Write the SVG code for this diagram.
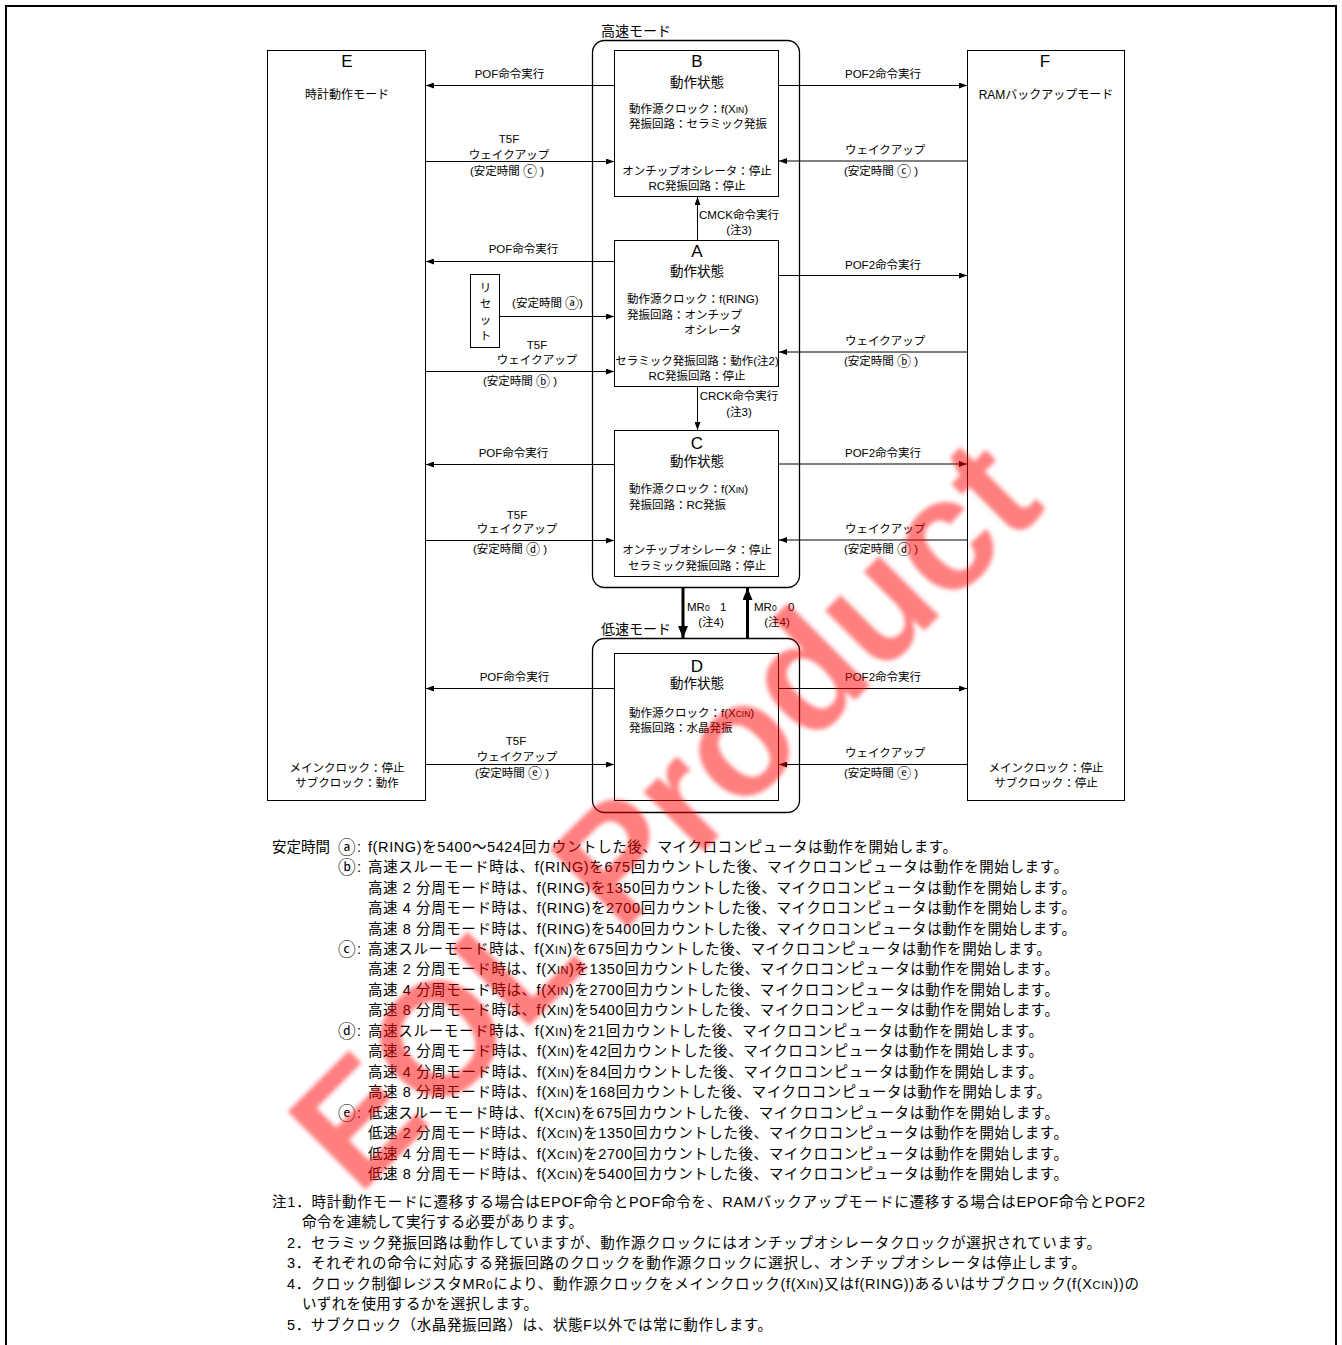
<svg xmlns="http://www.w3.org/2000/svg" width="1342" height="1345" viewBox="0 0 1342 1345">
<style>
text{font-family:"Liberation Sans","Noto Sans CJK JP",sans-serif;font-size:11.5px;fill:#000}
.m{text-anchor:middle}
.big{font-size:17px}
.st{font-size:13.5px}
.md{font-size:12px}
.mode{font-size:14px}
.note{font-size:14.5px}
.sub{font-size:8.5px}
.nsub{font-size:11px}
.ci{font-family:"DejaVu Sans","Noto Sans CJK JP",sans-serif;font-size:1.22em;baseline-shift:-0.1em}
.box{fill:#fff;stroke:#000;stroke-width:1}
.grp{fill:none;stroke:#000;stroke-width:1.3}
.ln{stroke:#000;stroke-width:1;fill:none;marker-end:url(#ah)}
.thick{stroke:#000;stroke-width:3;fill:none;marker-end:url(#ahb)}
.wm{font-family:"Liberation Sans",sans-serif;font-weight:bold;font-size:160px;fill:#ff0000;fill-opacity:0.5}
</style>
<defs>
<marker id="ah" markerWidth="8" markerHeight="6" refX="8" refY="3" orient="auto" markerUnits="userSpaceOnUse"><path d="M0,0 L8,3 L0,6 z" fill="#000"/></marker>
<marker id="ahb" markerWidth="12" markerHeight="10" refX="12" refY="5" orient="auto" markerUnits="userSpaceOnUse"><path d="M0,0 L12,5 L0,10 z" fill="#000"/></marker>
<filter id="blur" x="-5%" y="-5%" width="110%" height="110%"><feGaussianBlur stdDeviation="2"/></filter>
</defs>
<rect x="0" y="0" width="1342" height="1345" fill="#fff"/>
<rect x="6" y="6" width="1330" height="1350" fill="none" stroke="#000" stroke-width="2"/>

<g id="group-high">
<rect class="grp" x="592.5" y="40.5" width="207" height="547" rx="12"/>
<text class="mode" x="601" y="36">高速モード</text>
</g>
<g id="group-low">
<rect class="grp" x="592.5" y="638.5" width="207" height="174" rx="12"/>
<text class="mode" x="601" y="634">低速モード</text>
</g>

<g id="node-E">
<rect class="box" x="267.5" y="50.5" width="158" height="750"/>
<text class="big m" x="347" y="67">E</text>
<text class="md m" x="347" y="99">時計動作モード</text>
<text class="m" x="347" y="772">メインクロック：停止</text>
<text class="m" x="347" y="787">サブクロック：動作</text>
</g>

<g id="node-F">
<rect class="box" x="967.5" y="50.5" width="157" height="750"/>
<text class="big m" x="1045" y="67">F</text>
<text class="md m" x="1046" y="99">RAMバックアップモード</text>
<text class="m" x="1046" y="772">メインクロック：停止</text>
<text class="m" x="1046" y="787">サブクロック：停止</text>
</g>

<g id="node-B">
<rect class="box" x="614.5" y="50.5" width="164" height="146"/>
<text class="big m" x="697" y="67">B</text>
<text class="st m" x="697" y="87">動作状態</text>
<text x="629" y="113">動作源クロック：f(X<tspan class="sub">IN</tspan>)</text>
<text x="629" y="128">発振回路：セラミック発振</text>
<text class="m" x="697" y="175">オンチップオシレータ：停止</text>
<text class="m" x="697" y="190">RC発振回路：停止</text>
</g>

<g id="node-A">
<rect class="box" x="614.5" y="240.5" width="164" height="146"/>
<text class="big m" x="697" y="257">A</text>
<text class="st m" x="697" y="276">動作状態</text>
<text x="627" y="303">動作源クロック：f(RING)</text>
<text x="627" y="319">発振回路：オンチップ</text>
<text x="684" y="334">オシレータ</text>
<text class="m" x="697" y="365">セラミック発振回路：動作(注2)</text>
<text class="m" x="697" y="380">RC発振回路：停止</text>
</g>

<g id="node-C">
<rect class="box" x="614.5" y="430.5" width="164" height="146"/>
<text class="big m" x="697" y="449">C</text>
<text class="st m" x="697" y="466">動作状態</text>
<text x="629" y="493">動作源クロック：f(X<tspan class="sub">IN</tspan>)</text>
<text x="629" y="509">発振回路：RC発振</text>
<text class="m" x="697" y="554">オンチップオシレータ：停止</text>
<text class="m" x="697" y="570">セラミック発振回路：停止</text>
</g>

<g id="node-D">
<rect class="box" x="614.5" y="653.5" width="164" height="147"/>
<text class="big m" x="697" y="672">D</text>
<text class="st m" x="697" y="688">動作状態</text>
<text x="629" y="717">動作源クロック：f(X<tspan class="sub">CIN</tspan>)</text>
<text x="629" y="732">発振回路：水晶発振</text>
</g>

<g id="node-reset">
<rect class="box" x="470.5" y="274.5" width="29" height="73"/>
<text class="m" x="485.5" y="292">リ</text>
<text class="m" x="485.5" y="308">セ</text>
<text class="m" x="485.5" y="324">ッ</text>
<text class="m" x="485.5" y="340">ト</text>
</g>

<g id="connectors">
<line class="ln" x1="614.5" y1="85.5" x2="426" y2="85.5"/>
<line class="ln" x1="426" y1="161.5" x2="614" y2="161.5"/>
<line class="ln" x1="779" y1="85.5" x2="967" y2="85.5"/>
<line class="ln" x1="967" y1="161" x2="779" y2="161"/>
<line class="ln" x1="697.5" y1="240" x2="697.5" y2="197"/>
<line class="ln" x1="614.5" y1="261.5" x2="426" y2="261.5"/>
<line class="ln" x1="500" y1="316.5" x2="614" y2="316.5"/>
<line class="ln" x1="426" y1="371.5" x2="614" y2="371.5"/>
<line class="ln" x1="779" y1="275.5" x2="967" y2="275.5"/>
<line class="ln" x1="967" y1="352" x2="779" y2="352"/>
<line class="ln" x1="697.5" y1="387" x2="697.5" y2="430"/>
<line class="ln" x1="614.5" y1="464.5" x2="426" y2="464.5"/>
<line class="ln" x1="426" y1="540.5" x2="614" y2="540.5"/>
<line class="ln" x1="779" y1="464" x2="967" y2="464"/>
<line class="ln" x1="967" y1="540" x2="779" y2="540"/>
<line class="ln" x1="614.5" y1="688.5" x2="426" y2="688.5"/>
<line class="ln" x1="426" y1="764.5" x2="614" y2="764.5"/>
<line class="ln" x1="779" y1="688.5" x2="967" y2="688.5"/>
<line class="ln" x1="967" y1="764.5" x2="779" y2="764.5"/>
<line class="thick" x1="683" y1="588" x2="683" y2="638"/>
<line class="thick" x1="747.5" y1="638" x2="747.5" y2="588"/>

<text class="m" x="509.5" y="78">POF命令実行</text>
<text class="m" x="509" y="143">T5F</text>
<text class="m" x="509" y="159">ウェイクアップ</text>
<text class="m" x="507" y="175">(安定時間 <tspan class="ci">ⓒ</tspan> )</text>
<text x="845" y="78">POF2命令実行</text>
<text x="845" y="154">ウェイクアップ</text>
<text x="844" y="175">(安定時間 <tspan class="ci">ⓒ</tspan> )</text>
<text class="m" x="739" y="219">CMCK命令実行</text>
<text class="m" x="739" y="234">(注3)</text>

<text class="m" x="523.5" y="253">POF命令実行</text>
<text class="m" x="547.5" y="307">(安定時間 <tspan class="ci">ⓐ</tspan>)</text>
<text class="m" x="537" y="349">T5F</text>
<text class="m" x="537" y="364">ウェイクアップ</text>
<text class="m" x="520" y="385">(安定時間 <tspan class="ci">ⓑ</tspan> )</text>
<text x="845" y="269">POF2命令実行</text>
<text x="845" y="345">ウェイクアップ</text>
<text x="844" y="365">(安定時間 <tspan class="ci">ⓑ</tspan> )</text>
<text class="m" x="739" y="400">CRCK命令実行</text>
<text class="m" x="739" y="416">(注3)</text>

<text class="m" x="513.5" y="457">POF命令実行</text>
<text class="m" x="517" y="519">T5F</text>
<text class="m" x="517" y="533">ウェイクアップ</text>
<text class="m" x="510" y="553">(安定時間 <tspan class="ci">ⓓ</tspan> )</text>
<text x="845" y="457">POF2命令実行</text>
<text x="845" y="533">ウェイクアップ</text>
<text x="844" y="553">(安定時間 <tspan class="ci">ⓓ</tspan> )</text>

<text x="687" y="611">MR<tspan class="sub">0</tspan><tspan x="720">1</tspan></text>
<text class="m" x="711" y="626">(注4)</text>
<text x="754" y="611">MR<tspan class="sub">0</tspan><tspan x="788">0</tspan></text>
<text class="m" x="777" y="626">(注4)</text>

<text class="m" x="514.5" y="681">POF命令実行</text>
<text class="m" x="516" y="745">T5F</text>
<text class="m" x="517" y="761">ウェイクアップ</text>
<text class="m" x="512" y="777">(安定時間 <tspan class="ci">ⓔ</tspan> )</text>
<text x="845" y="681">POF2命令実行</text>
<text x="845" y="757">ウェイクアップ</text>
<text x="844" y="777">(安定時間 <tspan class="ci">ⓔ</tspan> )</text>
</g>

<g id="notes">
<text class="note" x="272" y="852">安定時間</text>
<text class="note" x="338" y="852"><tspan class="ci">ⓐ</tspan></text>
<text class="note" x="357" y="852">:</text>
<text class="note" x="368" y="852" textLength="589" lengthAdjust="spacing">f(RING)を5400～5424回カウントした後、マイクロコンピュータは動作を開始します。</text>
<text class="note" x="338" y="872"><tspan class="ci">ⓑ</tspan></text>
<text class="note" x="357" y="872">:</text>
<text class="note" x="368" y="872" textLength="700" lengthAdjust="spacing">高速スルーモード時は、f(RING)を675回カウントした後、マイクロコンピュータは動作を開始します。</text>
<text class="note" x="368" y="893" textLength="708" lengthAdjust="spacing">高速 2 分周モード時は、f(RING)を1350回カウントした後、マイクロコンピュータは動作を開始します。</text>
<text class="note" x="368" y="913" textLength="708" lengthAdjust="spacing">高速 4 分周モード時は、f(RING)を2700回カウントした後、マイクロコンピュータは動作を開始します。</text>
<text class="note" x="368" y="934" textLength="708" lengthAdjust="spacing">高速 8 分周モード時は、f(RING)を5400回カウントした後、マイクロコンピュータは動作を開始します。</text>
<text class="note" x="338" y="954"><tspan class="ci">ⓒ</tspan></text>
<text class="note" x="357" y="954">:</text>
<text class="note" x="368" y="954" textLength="683" lengthAdjust="spacing">高速スルーモード時は、f(X<tspan class="nsub">IN</tspan>)を675回カウントした後、マイクロコンピュータは動作を開始します。</text>
<text class="note" x="368" y="974" textLength="691" lengthAdjust="spacing">高速 2 分周モード時は、f(X<tspan class="nsub">IN</tspan>)を1350回カウントした後、マイクロコンピュータは動作を開始します。</text>
<text class="note" x="368" y="995" textLength="691" lengthAdjust="spacing">高速 4 分周モード時は、f(X<tspan class="nsub">IN</tspan>)を2700回カウントした後、マイクロコンピュータは動作を開始します。</text>
<text class="note" x="368" y="1015" textLength="691" lengthAdjust="spacing">高速 8 分周モード時は、f(X<tspan class="nsub">IN</tspan>)を5400回カウントした後、マイクロコンピュータは動作を開始します。</text>
<text class="note" x="338" y="1036"><tspan class="ci">ⓓ</tspan></text>
<text class="note" x="357" y="1036">:</text>
<text class="note" x="368" y="1036" textLength="675" lengthAdjust="spacing">高速スルーモード時は、f(X<tspan class="nsub">IN</tspan>)を21回カウントした後、マイクロコンピュータは動作を開始します。</text>
<text class="note" x="368" y="1056" textLength="675" lengthAdjust="spacing">高速 2 分周モード時は、f(X<tspan class="nsub">IN</tspan>)を42回カウントした後、マイクロコンピュータは動作を開始します。</text>
<text class="note" x="368" y="1077" textLength="675" lengthAdjust="spacing">高速 4 分周モード時は、f(X<tspan class="nsub">IN</tspan>)を84回カウントした後、マイクロコンピュータは動作を開始します。</text>
<text class="note" x="368" y="1097" textLength="683" lengthAdjust="spacing">高速 8 分周モード時は、f(X<tspan class="nsub">IN</tspan>)を168回カウントした後、マイクロコンピュータは動作を開始します。</text>
<text class="note" x="338" y="1118"><tspan class="ci">ⓔ</tspan></text>
<text class="note" x="357" y="1118">:</text>
<text class="note" x="368" y="1118" textLength="691" lengthAdjust="spacing">低速スルーモード時は、f(X<tspan class="nsub">CIN</tspan>)を675回カウントした後、マイクロコンピュータは動作を開始します。</text>
<text class="note" x="368" y="1138" textLength="700" lengthAdjust="spacing">低速 2 分周モード時は、f(X<tspan class="nsub">CIN</tspan>)を1350回カウントした後、マイクロコンピュータは動作を開始します。</text>
<text class="note" x="368" y="1159" textLength="700" lengthAdjust="spacing">低速 4 分周モード時は、f(X<tspan class="nsub">CIN</tspan>)を2700回カウントした後、マイクロコンピュータは動作を開始します。</text>
<text class="note" x="368" y="1179" textLength="700" lengthAdjust="spacing">低速 8 分周モード時は、f(X<tspan class="nsub">CIN</tspan>)を5400回カウントした後、マイクロコンピュータは動作を開始します。</text>

<text class="note" x="272" y="1207" textLength="873" lengthAdjust="spacing">注1．時計動作モードに遷移する場合はEPOF命令とPOF命令を、RAMバックアップモードに遷移する場合はEPOF命令とPOF2</text>
<text class="note" x="302" y="1227" textLength="281" lengthAdjust="spacing">命令を連続して実行する必要があります。</text>
<text class="note" x="287" y="1248" textLength="814" lengthAdjust="spacing">2．セラミック発振回路は動作していますが、動作源クロックにはオンチップオシレータクロックが選択されています。</text>
<text class="note" x="287" y="1268" textLength="799" lengthAdjust="spacing">3．それぞれの命令に対応する発振回路のクロックを動作源クロックに選択し、オンチップオシレータは停止します。</text>
<text class="note" x="287" y="1289" textLength="852" lengthAdjust="spacing">4．クロック制御レジスタMR<tspan class="nsub">0</tspan>により、動作源クロックをメインクロック(f(X<tspan class="nsub">IN</tspan>)又はf(RING))あるいはサブクロック(f(X<tspan class="nsub">CIN</tspan>))の</text>
<text class="note" x="302" y="1309" textLength="236" lengthAdjust="spacing">いずれを使用するかを選択します。</text>
<text class="note" x="287" y="1330" textLength="485" lengthAdjust="spacing">5．サブクロック（水晶発振回路）は、状態F以外では常に動作します。</text>
</g>

<g id="watermark" filter="url(#blur)">
<text class="wm" transform="translate(358,1197) rotate(-45)" x="0" y="0">EOL Product</text>
</g>
</svg>
